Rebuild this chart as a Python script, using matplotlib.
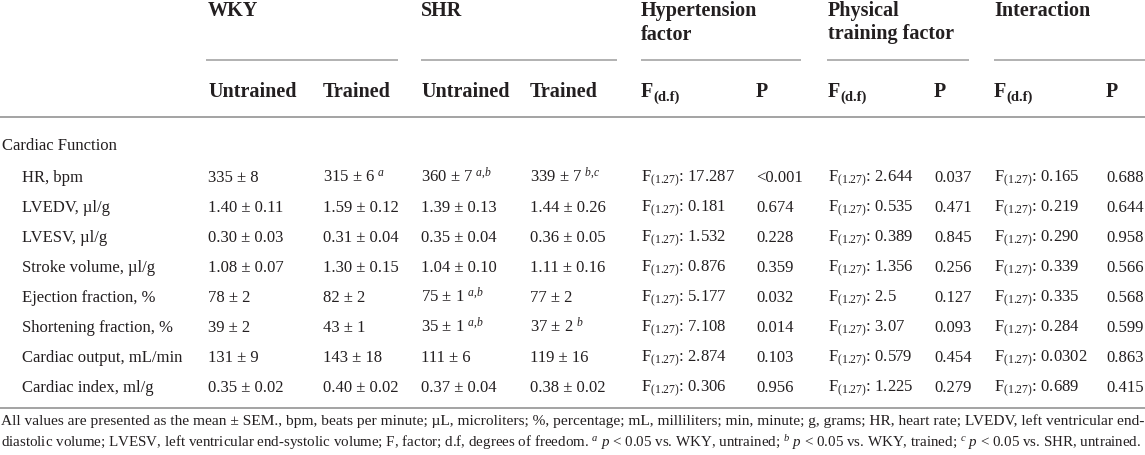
import matplotlib
matplotlib.use("Agg")
import matplotlib.pyplot as plt

plt.rcParams['font.family'] = ['Liberation Serif', 'DejaVu Serif']
plt.rcParams['mathtext.fontset'] = 'custom'
plt.rcParams['mathtext.rm'] = 'Liberation Serif'
plt.rcParams['mathtext.it'] = 'Liberation Serif:italic'
plt.rcParams['mathtext.bf'] = 'Liberation Serif:bold'

# ---------------- data ----------------
section = "Cardiac Function"
rows = ["HR, bpm", "LVEDV, µl/g", "LVESV, µl/g", "Stroke volume, µl/g",
        "Ejection fraction, %", "Shortening fraction, %",
        "Cardiac output, mL/min", "Cardiac index, ml/g"]

wky_untrained = ["335 ± 8", "1.40 ± 0.11", "0.30 ± 0.03", "1.08 ± 0.07",
                 "78 ± 2", "39 ± 2", "131 ± 9", "0.35 ± 0.02"]
wky_untrained_sup = ["", "", "", "", "", "", "", ""]
wky_trained = ["315 ± 6", "1.59 ± 0.12", "0.31 ± 0.04", "1.30 ± 0.15",
               "82 ± 2", "43 ± 1", "143 ± 18", "0.40 ± 0.02"]
wky_trained_sup = ["a", "", "", "", "", "", "", ""]
shr_untrained = ["360 ± 7", "1.39 ± 0.13", "0.35 ± 0.04", "1.04 ± 0.10",
                 "75 ± 1", "35 ± 1", "111 ± 6", "0.37 ± 0.04"]
shr_untrained_sup = ["a,b", "", "", "", "a,b", "a,b", "", ""]
shr_trained = ["339 ± 7", "1.44 ± 0.26", "0.36 ± 0.05", "1.11 ± 0.16",
               "77 ± 2", "37 ± 2", "119 ± 16", "0.38 ± 0.02"]
shr_trained_sup = ["b,c", "", "", "", "", "b", "", ""]

df_label = "(1.27)"
hyp_F = ["17.287", "0.181", "1.532", "0.876", "5.177", "7.108", "2.874", "0.306"]
hyp_P = ["<0.001", "0.674", "0.228", "0.359", "0.032", "0.014", "0.103", "0.956"]
phys_F = ["2.644", "0.535", "0.389", "1.356", "2.5", "3.07", "0.579", "1.225"]
phys_P = ["0.037", "0.471", "0.845", "0.256", "0.127", "0.093", "0.454", "0.279"]
int_F = ["0.165", "0.219", "0.290", "0.339", "0.335", "0.284", "0.0302", "0.689"]
int_P = ["0.688", "0.644", "0.958", "0.566", "0.568", "0.599", "0.863", "0.415"]

group_headers = ["WKY", "SHR", "Hypertension\nfactor",
                 "Physical\ntraining factor", "Interaction"]
sub_headers = ["Untrained", "Trained", "Untrained", "Trained",
               "F(d.f)", "P", "F(d.f)", "P", "F(d.f)", "P"]

footnote1 = ("All values are presented as the mean ± SEM., bpm, beats per minute; µL, microliters; "
             "%, percentage; mL, milliliters; min, minute; g, grams; HR, heart rate; LVEDV, left ventricular end-")
footnote2 = ("diastolic volume; LVESV, left ventricular end-systolic volume; F, factor; d.f, degrees of freedom. "
             r"$^{\mathit{a}}$ $\mathit{p}$ < 0.05 vs. WKY, untrained; $^{\mathit{b}}$ $\mathit{p}$ < 0.05 vs. WKY, trained; "
             r"$^{\mathit{c}}$ $\mathit{p}$ < 0.05 vs. SHR, untrained.")

# ---------------- layout ----------------
W, H = 1145, 455
TXT = '#231f20'
LINE = '#9c9c9c'
col_x = [208, 323, 421, 530, 641, 756, 828, 934, 994, 1106]
group_x = [208, 421, 641, 828, 994]
group_lines = [(206, 398), (421, 617), (641, 801), (827, 969), (994, 1145)]
body_fs = 12
head_fs = 14.5

fig = plt.figure(figsize=(W / 100, H / 100), dpi=100)
ax = fig.add_axes([0, 0, 1, 1])
ax.set_xlim(0, W)
ax.set_ylim(H, 0)
ax.axis('off')
fig.canvas.draw()
r = fig.canvas.get_renderer()

# group headers
for x, t in zip(group_x, group_headers):
    lines = t.split("\n")
    for k, ln in enumerate(lines):
        ax.text(x, 16 + 23.5 * k, ln, fontsize=head_fs, fontweight='bold',
                color=TXT, va='baseline', ha='left')
for x0, x1 in group_lines:
    ax.plot([x0, x1], [60, 60], color=LINE, lw=1.1, solid_capstyle='butt')

# sub headers
for x, t in zip(col_x, sub_headers):
    if t == "F(d.f)":
        tf = ax.text(x, 97, "F", fontsize=head_fs, fontweight='bold', color=TXT,
                     va='baseline', ha='left')
        wF = tf.get_window_extent(renderer=r).width
        ax.text(x + wF + 0.5, 101, "(d.f)", fontsize=10.5, fontweight='bold',
                color=TXT, va='baseline', ha='left')
    else:
        ax.text(x, 97, t, fontsize=head_fs, fontweight='bold', color=TXT,
                va='baseline', ha='left')
ax.plot([0, W], [117, 117], color=LINE, lw=1.3, solid_capstyle='butt')

# section label
ax.text(2, 150, section, fontsize=body_fs, color=TXT, va='baseline', ha='left')


def val(v, sup):
    if sup:
        return v + r" $^{\mathit{" + sup.replace(",", "{,}") + "}}$"
    return v


def fval(v):
    return r"$\mathrm{F}_{" + df_label + "}$: " + v


columns = [
    [val(v, s) for v, s in zip(wky_untrained, wky_untrained_sup)],
    [val(v, s) for v, s in zip(wky_trained, wky_trained_sup)],
    [val(v, s) for v, s in zip(shr_untrained, shr_untrained_sup)],
    [val(v, s) for v, s in zip(shr_trained, shr_trained_sup)],
    [fval(v) for v in hyp_F], hyp_P,
    [fval(v) for v in phys_F], phys_P,
    [fval(v) for v in int_F], int_P,
]

for i, lab in enumerate(rows):
    yb = 182 + 30 * i
    ax.text(22, yb, lab, fontsize=body_fs, color=TXT, va='baseline', ha='left')
    for x, col in zip(col_x, columns):
        ax.text(x, yb, col[i], fontsize=body_fs, color=TXT, va='baseline', ha='left')

ax.plot([0, W], [408, 408], color=LINE, lw=1.3, solid_capstyle='butt')


# footnotes, each sized to span the width
def fit_size(s, target):
    probe = ax.text(0, 0, s, fontsize=10)
    wpx = probe.get_window_extent(renderer=r).width
    probe.remove()
    return 10 * target / wpx


fs1 = fit_size(footnote1, 1141)
fs2 = fit_size(footnote2, 1141)
ax.text(1, 425, footnote1, fontsize=fs1, color=TXT, va='baseline', ha='left')
ax.text(1, 447, footnote2, fontsize=fs2, color=TXT, va='baseline', ha='left')

fig.savefig("out.png", dpi=100, facecolor='white')
